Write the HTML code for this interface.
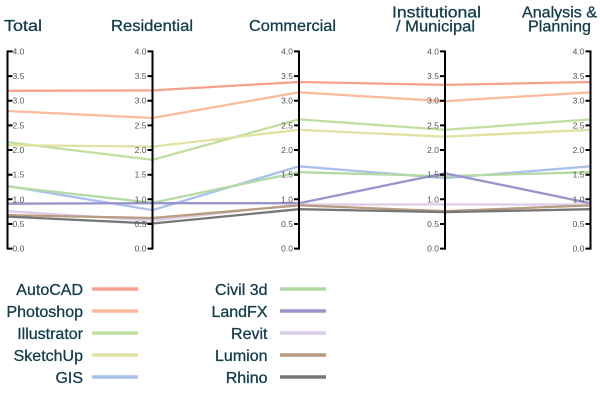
<!DOCTYPE html>
<html><head><meta charset="utf-8"><style>
html,body{margin:0;padding:0;background:#fff;width:600px;height:412px;overflow:hidden}
svg{display:block}
.t{font-family:"Liberation Sans",sans-serif;font-size:16px;fill:#123d4a;stroke:#123d4a;stroke-width:0.3}
.k{font-family:"Liberation Sans",sans-serif;font-size:8.5px;fill:#555}
.s{fill:none;stroke-width:2.3;stroke-linejoin:round}
</style></head><body>
<svg width="600" height="412" viewBox="0 0 600 412" xmlns="http://www.w3.org/2000/svg">
<!-- titles -->
<text class="t" x="4" y="31" textLength="38" lengthAdjust="spacingAndGlyphs">Total</text>
<text class="t" x="111" y="31" textLength="82" lengthAdjust="spacingAndGlyphs">Residential</text>
<text class="t" x="249" y="31" textLength="87" lengthAdjust="spacingAndGlyphs">Commercial</text>
<text class="t" x="392" y="17.5" textLength="89" lengthAdjust="spacingAndGlyphs">Institutional</text>
<text class="t" x="396" y="31.5" textLength="79" lengthAdjust="spacingAndGlyphs">/ Municipal</text>
<text class="t" x="522" y="17.5" textLength="75" lengthAdjust="spacingAndGlyphs">Analysis &amp;</text>
<text class="t" x="528" y="31.5" textLength="63" lengthAdjust="spacingAndGlyphs">Planning</text>

<!-- series -->
<polyline class="s" stroke="#f5a28c" points="7.5,90.8 152.5,90.4 299,82 445,84.9 590.5,82"/>
<polyline class="s" stroke="#fbbb9b" points="7.5,111 152.5,118 299,92.3 445,101.2 590.5,92.3"/>
<polyline class="s" stroke="#c1df9f" points="7.5,142.1 152.5,159.9 299,119.4 445,129.8 590.5,119.4"/>
<polyline class="s" stroke="#e1e1a3" points="7.5,145.1 152.5,146.6 299,129.8 445,136.7 590.5,129.8"/>
<polyline class="s" stroke="#a9c1ea" points="7.5,186 152.5,210.1 299,166.3 445,178.1 590.5,166.3"/>
<polyline class="s" stroke="#b3daa5" points="7.5,186.5 152.5,202.8 299,172.2 445,176.1 590.5,172.2"/>
<polyline class="s" stroke="#9a94cd" points="7.5,203.7 152.5,203.2 299,203.2 445,173.2 590.5,203.2"/>
<polyline class="s" stroke="#dccbe5" points="7.5,211.1 152.5,220.5 299,204.6 445,204.4 590.5,204.6"/>
<polyline class="s" stroke="#b89b80" points="7.5,215.1 152.5,218 299,205.4 445,211.1 590.5,205.4"/>
<polyline class="s" stroke="#777777" points="7.5,216.6 152.5,223.5 299,209.2 445,212.1 590.5,209.2"/>

<!-- axes -->
<g stroke="#000" stroke-width="2" fill="none">
<line x1="7.5" y1="50.5" x2="7.5" y2="249.6"/>
<line x1="152.5" y1="50.5" x2="152.5" y2="249.6"/>
<line x1="299" y1="50.5" x2="299" y2="249.6"/>
<line x1="445" y1="50.5" x2="445" y2="249.6"/>
<line x1="590.5" y1="50.5" x2="590.5" y2="249.6"/>
<path d="M7.5 51.4h5M7.5 76.1h5M7.5 100.7h5M7.5 125.4h5M7.5 150h5M7.5 174.7h5M7.5 199.3h5M7.5 224h5M7.5 248.6h5"/>
<path d="M147.5 51.4h5M147.5 76.1h5M147.5 100.7h5M147.5 125.4h5M147.5 150h5M147.5 174.7h5M147.5 199.3h5M147.5 224h5M147.5 248.6h5"/>
<path d="M294 51.4h5M294 76.1h5M294 100.7h5M294 125.4h5M294 150h5M294 174.7h5M294 199.3h5M294 224h5M294 248.6h5"/>
<path d="M440 51.4h5M440 76.1h5M440 100.7h5M440 125.4h5M440 150h5M440 174.7h5M440 199.3h5M440 224h5M440 248.6h5"/>
<path d="M585.5 51.4h5M585.5 76.1h5M585.5 100.7h5M585.5 125.4h5M585.5 150h5M585.5 174.7h5M585.5 199.3h5M585.5 224h5M585.5 248.6h5"/>
</g>

<!-- tick labels -->
<g class="k">
<text x="12.5" y="54.4">4.0</text><text x="12.5" y="79.1">3.5</text><text x="12.5" y="103.7">3.0</text><text x="12.5" y="128.4">2.5</text><text x="12.5" y="153">2.0</text><text x="12.5" y="177.7">1.5</text><text x="12.5" y="202.3">1.0</text><text x="12.5" y="227">0.5</text><text x="12.5" y="251.6">0.0</text>
</g>
<g class="k" text-anchor="end">
<text x="146.5" y="54.4">4.0</text><text x="146.5" y="79.1">3.5</text><text x="146.5" y="103.7">3.0</text><text x="146.5" y="128.4">2.5</text><text x="146.5" y="153">2.0</text><text x="146.5" y="177.7">1.5</text><text x="146.5" y="202.3">1.0</text><text x="146.5" y="227">0.5</text><text x="146.5" y="251.6">0.0</text>
<text x="293" y="54.4">4.0</text><text x="293" y="79.1">3.5</text><text x="293" y="103.7">3.0</text><text x="293" y="128.4">2.5</text><text x="293" y="153">2.0</text><text x="293" y="177.7">1.5</text><text x="293" y="202.3">1.0</text><text x="293" y="227">0.5</text><text x="293" y="251.6">0.0</text>
<text x="439" y="54.4">4.0</text><text x="439" y="79.1">3.5</text><text x="439" y="103.7">3.0</text><text x="439" y="128.4">2.5</text><text x="439" y="153">2.0</text><text x="439" y="177.7">1.5</text><text x="439" y="202.3">1.0</text><text x="439" y="227">0.5</text><text x="439" y="251.6">0.0</text>
<text x="584.5" y="54.4">4.0</text><text x="584.5" y="79.1">3.5</text><text x="584.5" y="103.7">3.0</text><text x="584.5" y="128.4">2.5</text><text x="584.5" y="153">2.0</text><text x="584.5" y="177.7">1.5</text><text x="584.5" y="202.3">1.0</text><text x="584.5" y="227">0.5</text><text x="584.5" y="251.6">0.0</text>
</g>

<!-- legend -->
<g class="t" text-anchor="end">
<text x="83" y="295">AutoCAD</text>
<text x="83" y="317">Photoshop</text>
<text x="83" y="339">Illustrator</text>
<text x="83" y="361">SketchUp</text>
<text x="83" y="383">GIS</text>
<text x="267.5" y="295">Civil 3d</text>
<text x="267.5" y="317">LandFX</text>
<text x="267.5" y="339">Revit</text>
<text x="267.5" y="361">Lumion</text>
<text x="267.5" y="383">Rhino</text>
</g>
<g stroke-width="3.5">
<line x1="92" y1="289" x2="138" y2="289" stroke="#f5a28c"/>
<line x1="92" y1="311" x2="138" y2="311" stroke="#fbbb9b"/>
<line x1="92" y1="333" x2="138" y2="333" stroke="#c1df9f"/>
<line x1="92" y1="355" x2="138" y2="355" stroke="#e1e1a3"/>
<line x1="92" y1="377" x2="138" y2="377" stroke="#a9c1ea"/>
<line x1="280" y1="289" x2="326" y2="289" stroke="#b3daa5"/>
<line x1="280" y1="311" x2="326" y2="311" stroke="#9a94cd"/>
<line x1="280" y1="333" x2="326" y2="333" stroke="#dccbe5"/>
<line x1="280" y1="355" x2="326" y2="355" stroke="#b89b80"/>
<line x1="280" y1="377" x2="326" y2="377" stroke="#777777"/>
</g>
</svg>
</body></html>
